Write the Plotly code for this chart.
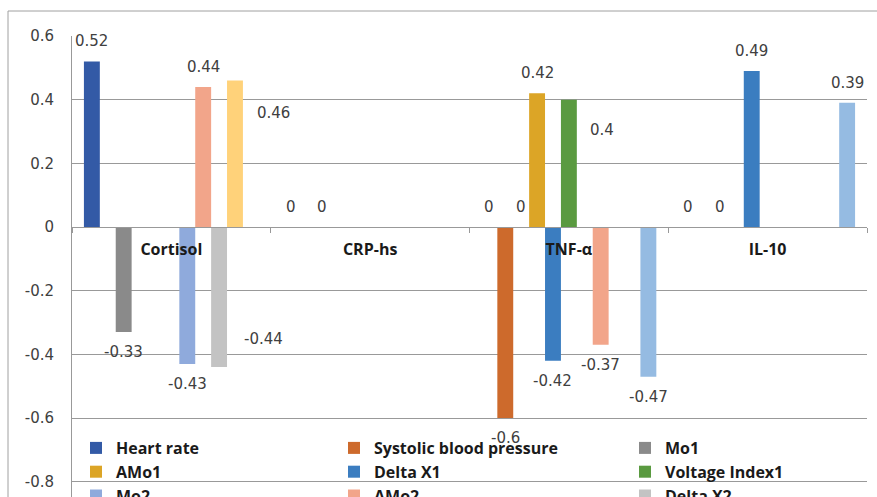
import plotly.graph_objects as go

# ---------------- data ----------------
categories = ["Cortisol", "CRP-hs", "TNF-α", "IL-10"]

series_names = [
    "Heart rate", "Systolic blood pressure", "Mo1",
    "AMo1", "Delta X1", "Voltage Index1",
    "Mo2", "AMo2", "Delta X2",
    "Voltage Index2", "Delta X3",
]

heart_rate     = [0.52, 0, 0, 0]
systolic_bp    = [None, None, -0.6, None]
mo1            = [-0.33, 0, 0, 0]
amo1           = [None, None, 0.42, None]
delta_x1       = [None, None, -0.42, 0.49]
voltage_index1 = [None, None, 0.40, None]
mo2            = [-0.43, None, None, None]
amo2           = [0.44, None, -0.37, None]
delta_x2       = [-0.44, None, None, None]
voltage_index2 = [0.46, None, None, None]
delta_x3       = [None, None, -0.47, 0.39]

series_values = [heart_rate, systolic_bp, mo1, amo1, delta_x1, voltage_index1,
                 mo2, amo2, delta_x2, voltage_index2, delta_x3]

y_tick_vals = [0.6, 0.4, 0.2, 0, -0.2, -0.4, -0.6, -0.8]
y_tick_text = ["0.6", "0.4", "0.2", "0", "-0.2", "-0.4", "-0.6", "-0.8"]

# ---------------- styles ----------------
colors = ["#335AA6", "#CD6A2C", "#8A8A8A", "#DCA526", "#3B7DC0", "#5A9A40",
          "#8FAADC", "#F2A58A", "#C3C3C3", "#FFD27A", "#95BBE2"]
legend_of = ["legend", "legend2", "legend3"] * 4

W, H = 877, 497
ML, MR, MT, MB = 72, 10, 36, 0
Y_MIN, Y_MAX = -0.848, 0.6
BARGAP = 0.12
FONT = "Open Sans"
NUM_FONT = "DejaVu Sans"
GRID = "#999999"

plot_h = H - MT - MB
plot_w = W - ML - MR


def paper_y(py):
    return 1 - (py - MT) / plot_h


def paper_x(px):
    return (px - ML) / plot_w


# label nudges (pixels) for labels moved manually in the original
label_nudge = {
    (9, 0): (39, -32),
    (8, 0): (44, 28),
    (5, 2): (33, -30),
}

n = len(series_values)
fig = go.Figure()
for i, (name, vals) in enumerate(zip(series_names, series_values)):
    fig.add_trace(go.Bar(
        name=name, x=categories, y=vals,
        marker=dict(color=colors[i], line=dict(width=0)),
        legend=legend_of[i],
    ))

annotations = []
for i, vals in enumerate(series_values):
    off = ((i + 0.5) / n - 0.5) * (1 - BARGAP)
    for j, v in enumerate(vals):
        if v is None:
            continue
        dx, dy = label_nudge.get((i, j), (0, 20 if v >= 0 else -20))
        annotations.append(dict(
            x=j + off, y=v, xref="x", yref="y",
            text=f"{v:g}",
            showarrow=False, xanchor="center", yanchor="middle",
            xshift=dx, yshift=dy,
            font=dict(family=NUM_FONT, size=15, color="#404040"),
        ))

zero_pos = (0 - Y_MIN) / (Y_MAX - Y_MIN)

legend_common = dict(
    orientation="v", yanchor="top", xanchor="left",
    bgcolor="rgba(0,0,0,0)", borderwidth=0,
    font=dict(family=FONT, size=16, color="#1A1A1A", weight="bold"),
    tracegroupgap=0, itemwidth=30,
)

fig.update_layout(
    width=W, height=H,
    margin=dict(l=ML, r=MR, t=MT, b=MB, autoexpand=False),
    paper_bgcolor="white", plot_bgcolor="white",
    barmode="group", bargap=BARGAP, bargroupgap=0,
    annotations=annotations,
    xaxis=dict(
        type="category", anchor="free", position=zero_pos,
        showline=True, linecolor=GRID, linewidth=1,
        ticks="outside", ticklen=5, tickcolor=GRID, tickson="boundaries",
        showgrid=False, automargin=False, ticklabelstandoff=8,
        tickfont=dict(family=FONT, size=16, color="#1A1A1A", weight="bold"),
    ),
    yaxis=dict(
        range=[Y_MIN, Y_MAX], tickvals=y_tick_vals, ticktext=y_tick_text,
        showgrid=True, gridcolor=GRID, gridwidth=1, zeroline=False,
        showline=True, linecolor=GRID, linewidth=1,
        ticks="", automargin=False, ticklabelstandoff=14,
        tickfont=dict(family=NUM_FONT, size=15, color="#404040"),
    ),
    legend=dict(x=paper_x(76), y=paper_y(431), **legend_common),
    legend2=dict(x=paper_x(334), y=paper_y(431), **legend_common),
    legend3=dict(x=paper_x(625), y=paper_y(431), **legend_common),
    shapes=[dict(
        type="rect", xref="paper", yref="paper",
        x0=paper_x(8), x1=1.2, y0=-0.2, y1=paper_y(11),
        line=dict(color="#A0A0A0", width=1), fillcolor="rgba(0,0,0,0)",
        layer="below",
    )],
)

fig.write_html("out.html")
